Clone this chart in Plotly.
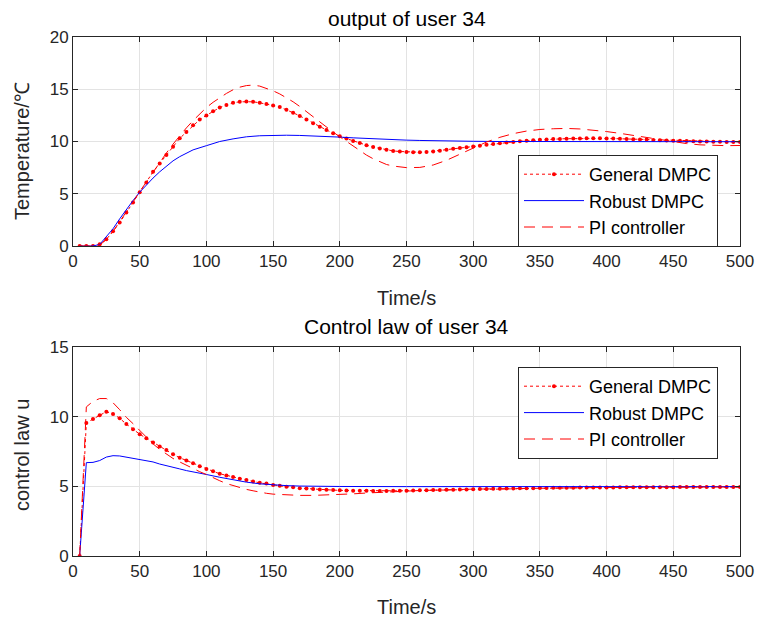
import plotly.graph_objects as go

# ---------------- data ----------------
t_fine = list(range(5, 505, 5))

gen_out = [0, 0, 0, 0.16, 0.64, 1.4, 2.24, 3.2, 4.16, 5.15,
           6.08, 7.1, 7.9, 8.7, 9.5, 10.3, 10.9, 11.55, 12.1, 12.5,
           12.9, 13.25, 13.5, 13.7, 13.8, 13.82, 13.8, 13.7, 13.6, 13.45,
           13.3, 13.05, 12.75, 12.45, 12.1, 11.75, 11.4, 11.1, 10.8, 10.5,
           10.28, 10.05, 9.85, 9.65, 9.47, 9.33, 9.2, 9.1, 9.04, 9.0,
           8.98, 8.98, 9.0, 9.05, 9.12, 9.22, 9.3, 9.38, 9.46, 9.53,
           9.6, 9.68, 9.76, 9.83, 9.9, 9.96, 10.02, 10.07, 10.12, 10.16,
           10.2, 10.23, 10.25, 10.27, 10.28, 10.29, 10.3, 10.3, 10.3, 10.29,
           10.28, 10.26, 10.24, 10.22, 10.2, 10.18, 10.15, 10.13, 10.1, 10.08,
           10.06, 10.04, 10.02, 10.0, 9.99, 9.98, 9.97, 9.96, 9.96, 9.95]

t_rob_out = [5, 10, 15, 20, 25, 30, 35, 40, 45, 50, 55, 60, 65, 70, 75, 80, 90, 100,
             110, 120, 130, 140, 150, 160, 170, 180, 190, 200, 210, 220, 230, 240,
             250, 260, 270, 280, 300, 320, 350, 400, 450, 500]
rob_out = [0, 0, 0, 0.15, 0.85, 1.65, 2.6, 3.5, 4.35, 5.15, 5.85, 6.5, 7.1, 7.65, 8.15, 8.55, 9.2, 9.6,
           10.0, 10.25, 10.45, 10.55, 10.6, 10.6, 10.58, 10.55, 10.5, 10.42, 10.35, 10.28, 10.22, 10.17,
           10.13, 10.1, 10.07, 10.05, 10.02, 10.0, 9.99, 9.98, 9.98, 9.98]

t_pi_out = [5, 10, 15, 20, 25, 30, 35, 40, 45, 50, 55, 60, 65, 70, 75, 80, 85, 90, 95, 100,
            105, 110, 115, 120, 125, 130, 135, 140, 145, 150, 155, 160, 165, 170, 175, 180,
            185, 190, 195, 200, 205, 210, 215, 220, 225, 230, 235, 240, 245, 250, 260, 270,
            280, 290, 300, 310, 320, 330, 340, 350, 360, 370, 380, 390, 400, 410, 420, 430,
            440, 450, 460, 470, 480, 490, 500]
pi_out = [0, 0, 0, 0.1, 0.6, 1.4, 2.3, 3.2, 4.2, 5.2, 6.15, 7.1, 8.0, 8.9, 9.75, 10.55, 11.3, 12.0, 12.65, 13.25,
          13.75, 14.2, 14.6, 14.95, 15.2, 15.35, 15.4, 15.3, 15.1, 14.85, 14.55, 14.2, 13.8, 13.35, 12.85, 12.35,
          11.85, 11.35, 10.9, 10.45, 10.0, 9.55, 9.1, 8.7, 8.35, 8.05, 7.8, 7.65, 7.55, 7.5, 7.52, 7.75,
          8.2, 8.8, 9.4, 9.95, 10.4, 10.75, 11.0, 11.15, 11.22, 11.25, 11.2, 11.1, 10.95, 10.78, 10.58, 10.38,
          10.15, 9.95, 9.8, 9.68, 9.62, 9.6, 9.62]

gen_u = [0, 9.55, 9.83, 10.1, 10.36, 10.2, 9.88, 9.47, 9.1, 8.74,
         8.45, 8.15, 7.85, 7.6, 7.3, 7.05, 6.85, 6.65, 6.44, 6.25,
         6.08, 5.9, 5.78, 5.67, 5.55, 5.45, 5.35, 5.25, 5.2, 5.1,
         5.04, 4.97, 4.93, 4.87, 4.84, 4.8, 4.77, 4.75, 4.73, 4.71,
         4.7, 4.69, 4.68, 4.68, 4.67, 4.67, 4.67, 4.68, 4.68, 4.69,
         4.7, 4.71, 4.72, 4.73, 4.74, 4.75, 4.76, 4.77, 4.78, 4.79,
         4.8, 4.81, 4.82, 4.83, 4.84, 4.85, 4.86, 4.86, 4.87, 4.88,
         4.88, 4.89, 4.89, 4.9, 4.9, 4.91, 4.91, 4.91, 4.92, 4.92,
         4.92, 4.93, 4.93, 4.93, 4.93, 4.94, 4.94, 4.94, 4.94, 4.94,
         4.95, 4.95, 4.95, 4.95, 4.95, 4.95, 4.95, 4.95, 4.95, 4.95]

t_rob_u = [5, 10, 15, 20, 25, 30, 35, 40, 45, 50, 55, 60, 65, 70, 75, 80, 85, 90, 95, 100,
           110, 120, 130, 140, 150, 160, 170, 180, 200, 250, 300, 400, 500]
rob_u = [0, 6.7, 6.72, 6.85, 7.1, 7.2, 7.18, 7.1, 7.02, 6.95, 6.85, 6.75, 6.6, 6.5, 6.4, 6.25, 6.13, 6.02, 5.93, 5.85,
         5.65, 5.47, 5.3, 5.18, 5.1, 5.05, 5.02, 5.0, 4.99, 4.98, 4.98, 4.98, 4.98]

t_pi_u = [5, 10, 15, 20, 25, 30, 35, 40, 45, 50, 55, 60, 65, 70, 75, 80, 85, 90, 95, 100,
          105, 110, 115, 120, 125, 130, 135, 140, 145, 150, 160, 170, 180, 190, 200, 210, 220,
          230, 240, 250, 260, 300, 350, 400, 450, 500]
pi_u = [0, 10.7, 11.1, 11.3, 11.3, 11.0, 10.5, 9.95, 9.5, 9.0, 8.5, 8.05, 7.65, 7.3, 7.0, 6.75, 6.5, 6.25, 6.05, 5.85,
        5.6, 5.4, 5.2, 5.05, 4.9, 4.78, 4.68, 4.58, 4.5, 4.44, 4.38, 4.35, 4.35, 4.37, 4.41, 4.46, 4.52,
        4.57, 4.62, 4.66, 4.7, 4.8, 4.88, 4.92, 4.95, 4.95]

x_ticks = [0, 50, 100, 150, 200, 250, 300, 350, 400, 450, 500]
y_ticks_top = [0, 5, 10, 15, 20]
y_ticks_bot = [0, 5, 10, 15]

names = ["General DMPC", "Robust DMPC", "PI controller"]
titles = ["output of user 34", "Control law of user 34"]
y_titles = ["Temperature/℃", "control law u"]
x_title = "Time/s"

# ---------------- figure ----------------
FONT = "Liberation Sans, Arial, sans-serif"
TXT = "#262626"
RED = "#ff0000"
BLUE = "#0000ff"

fig = go.Figure()

def add_set(tg, g, tr, r, tp, p, xa, ya, leg):
    fig.add_trace(go.Scatter(x=tg, y=g, name=names[0], mode="lines+markers",
                             line=dict(color=RED, width=1, dash="dot"),
                             marker=dict(color=RED, size=4),
                             xaxis=xa, yaxis=ya, legend=leg))
    fig.add_trace(go.Scatter(x=tr, y=r, name=names[1], mode="lines",
                             line=dict(color=BLUE, width=1),
                             xaxis=xa, yaxis=ya, legend=leg))
    fig.add_trace(go.Scatter(x=tp, y=p, name=names[2], mode="lines",
                             line=dict(color=RED, width=1, dash="11px,7px"),
                             xaxis=xa, yaxis=ya, legend=leg))

add_set(t_fine, gen_out, t_rob_out, rob_out, t_pi_out, pi_out, "x", "y", "legend")
add_set(t_fine, gen_u, t_rob_u, rob_u, t_pi_u, pi_u, "x2", "y2", "legend2")

H_PLOT = 519.0
def py(px):
    return (556 - px) / H_PLOT

axis_common = dict(showline=True, linecolor=TXT, linewidth=1, mirror="allticks",
                   ticks="inside", ticklen=5, tickcolor=TXT, tickwidth=1,
                   showgrid=True, gridcolor="#e3e3e3", gridwidth=1, zeroline=False,
                   tickfont=dict(family=FONT, size=17, color=TXT))

fig.update_layout(
    width=767, height=625,
    margin=dict(l=73, r=27, t=37, b=69),
    paper_bgcolor="white", plot_bgcolor="white",
    font=dict(family=FONT, size=18, color=TXT),
    xaxis=dict(domain=[0, 1], range=[0, 500], tickvals=x_ticks, anchor="y", **axis_common),
    yaxis=dict(domain=[py(246), 1.0], range=[0, 20], tickvals=y_ticks_top, anchor="x", **axis_common),
    xaxis2=dict(domain=[0, 1], range=[0, 500], tickvals=x_ticks, anchor="y2", **axis_common),
    yaxis2=dict(domain=[0, py(347)], range=[0, 15], tickvals=y_ticks_bot, anchor="x2", **axis_common),
    legend=dict(x=(518 - 73) / 667, y=py(155), xanchor="left", yanchor="top",
                bgcolor="white", bordercolor=TXT, borderwidth=1, itemwidth=60,
                font=dict(family=FONT, size=18, color="#000000"), tracegroupgap=0),
    legend2=dict(x=(518 - 73) / 667, y=py(367), xanchor="left", yanchor="top",
                 bgcolor="white", bordercolor=TXT, borderwidth=1, itemwidth=60,
                 font=dict(family=FONT, size=18, color="#000000"), tracegroupgap=0),
    showlegend=True,
)

ann = []
ann.append(dict(text=titles[0], x=0.5, y=py(18), xref="paper", yref="paper",
                showarrow=False, xanchor="center", yanchor="middle",
                font=dict(family=FONT, size=21, color="#000000")))
ann.append(dict(text=titles[1], x=0.5, y=py(326), xref="paper", yref="paper",
                showarrow=False, xanchor="center", yanchor="middle",
                font=dict(family=FONT, size=21, color="#000000")))
ann.append(dict(text=x_title, x=0.5, y=py(298), xref="paper", yref="paper",
                showarrow=False, xanchor="center", yanchor="middle",
                font=dict(family=FONT, size=20, color=TXT)))
ann.append(dict(text=x_title, x=0.5, y=py(607), xref="paper", yref="paper",
                showarrow=False, xanchor="center", yanchor="middle",
                font=dict(family=FONT, size=20, color=TXT)))
ann.append(dict(text=y_titles[0], x=(22 - 73) / 667, y=py(151), xref="paper", yref="paper",
                showarrow=False, xanchor="center", yanchor="middle", textangle=-90,
                font=dict(family=FONT, size=20, color=TXT)))
ann.append(dict(text=y_titles[1], x=(22 - 73) / 667, y=py(455), xref="paper", yref="paper",
                showarrow=False, xanchor="center", yanchor="middle", textangle=-90,
                font=dict(family=FONT, size=20, color=TXT)))
fig.update_layout(annotations=ann)

fig.write_html("out.html")
